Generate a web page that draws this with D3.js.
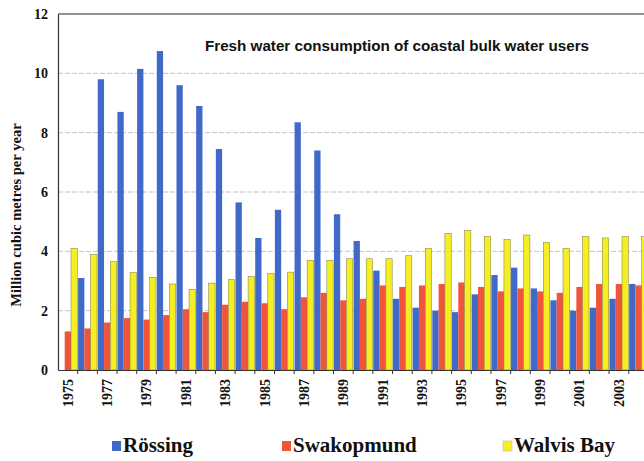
<!DOCTYPE html>
<html><head><meta charset="utf-8">
<script src="https://cdn.jsdelivr.net/npm/d3@7"></script>
<style>body{margin:0;background:#fff}svg{display:block}</style>
</head><body>
<svg id="c" width="644" height="461"></svg>
<script>
const years = d3.range(1975, 2005);
const seriesNames = ["Rössing", "Swakopmund", "Walvis Bay"];
const rossing = [0, 3.1, 9.8, 8.7, 10.15, 10.75, 9.6, 8.9, 7.45, 5.65, 4.45, 5.4, 8.35, 7.4, 5.25, 4.35, 3.35, 2.4, 2.1, 2.0, 1.95, 2.55, 3.2, 3.45, 2.75, 2.35, 2.0, 2.1, 2.4, 2.9];
const swakopmund = [1.3, 1.4, 1.6, 1.75, 1.7, 1.85, 2.05, 1.95, 2.2, 2.3, 2.25, 2.05, 2.45, 2.6, 2.35, 2.4, 2.85, 2.8, 2.85, 2.9, 2.95, 2.8, 2.65, 2.75, 2.65, 2.6, 2.8, 2.9, 2.9, 2.85];
const walvisBay = [4.1, 3.9, 3.65, 3.28, 3.12, 2.9, 2.72, 2.93, 3.05, 3.15, 3.25, 3.3, 3.7, 3.7, 3.75, 3.75, 3.75, 3.85, 4.1, 4.6, 4.7, 4.5, 4.4, 4.55, 4.3, 4.1, 4.5, 4.45, 4.5, 4.5];
const yTicks = [0, 2, 4, 6, 8, 10, 12];
const colors = ["#4169C8", "#F0553B", "#F5EE22"];
const title = "Fresh water consumption of coastal bulk water users";
const yTitle = "Million cubic metres per year";

const svg = d3.select("#c");
const mLeft = 58, mBottom = 370, mTop = 14;
const step = 19.68;
const x = d3.scaleBand().domain(years).range([mLeft, mLeft + step * years.length]).paddingInner(0.04).paddingOuter(0.02);
const xs = d3.scaleBand().domain([0,1,2]).range([0, x.bandwidth()]);
const y = d3.scaleLinear().domain([0, 12]).range([mBottom, mTop]);
const data = [rossing, swakopmund, walvisBay];

// gridlines
svg.append("g").selectAll("line").data(yTicks.filter(t => t > 0 && t < 12)).join("line")
  .attr("x1", mLeft).attr("x2", 644).attr("y1", d => y(d)).attr("y2", d => y(d))
  .attr("stroke", "#b5b5b5").attr("stroke-width", 0.8).attr("stroke-dasharray", "5,2");
// top border
svg.append("line").attr("x1", mLeft).attr("x2", 644).attr("y1", y(12)).attr("y2", y(12))
  .attr("stroke", "#222").attr("stroke-width", 1.2);

// bars
const g = svg.append("g");
years.forEach((yr, i) => {
  data.forEach((s, k) => {
    const v = s[i];
    if (v <= 0) return;
    g.append("rect")
      .attr("x", x(yr) + xs(k)).attr("width", xs.bandwidth())
      .attr("y", y(v)).attr("height", y(0) - y(v))
      .attr("fill", colors[k])
      .attr("stroke", k === 2 ? "#7a7a3a" : "none").attr("stroke-width", k === 2 ? 0.5 : 0);
  });
});

// y axis
const yAxis = d3.axisLeft(y).tickValues(yTicks).tickSize(0).tickPadding(10);
const ya = svg.append("g").attr("transform", `translate(${mLeft},0)`).call(yAxis);
ya.select(".domain").attr("stroke", "#333").attr("stroke-width", 1.2);
ya.selectAll("text").attr("font-family", "Liberation Serif, Times New Roman, serif")
  .attr("font-weight", "bold").attr("font-size", 14).attr("fill", "#111");

// x axis
const xAxis = d3.axisBottom(x).tickSize(0).tickFormat(d => (d - 1975) % 2 === 0 ? d : "");
const xa = svg.append("g").attr("transform", `translate(0,${mBottom})`).call(xAxis);
xa.select(".domain").attr("stroke", "#333").attr("stroke-width", 1.2);
xa.selectAll("text").attr("font-family", "Liberation Serif, Times New Roman, serif")
  .attr("font-weight", "bold").attr("font-size", 14).attr("fill", "#111")
  .attr("text-anchor", "end").attr("transform", "rotate(-90)")
  .attr("x", -9).attr("y", 0).attr("dy", "0.35em");
// category boundary ticks
svg.append("g").selectAll("line").data(years.slice(1)).join("line")
  .attr("x1", d => x(d) - x.step() * x.paddingInner() / 2).attr("x2", d => x(d) - x.step() * x.paddingInner() / 2)
  .attr("y1", mBottom).attr("y2", mBottom + 4).attr("stroke", "#333").attr("stroke-width", 1);

// title
svg.append("text").attr("x", 397).attr("y", 51).attr("text-anchor", "middle")
  .attr("font-family", "Liberation Sans, Arial, sans-serif").attr("font-weight", "bold")
  .attr("font-size", 15.2).attr("fill", "#111").text(title);

// y title
svg.append("text").attr("transform", "translate(21,215) rotate(-90)").attr("text-anchor", "middle")
  .attr("font-family", "Liberation Serif, Times New Roman, serif").attr("font-weight", "bold")
  .attr("font-size", 14.6).attr("fill", "#111").text(yTitle);

// legend
const legX = [112, 282, 503];
const lg = svg.append("g");
seriesNames.forEach((n, k) => {
  lg.append("rect").attr("x", legX[k]).attr("y", 441).attr("width", 9).attr("height", 10)
    .attr("fill", colors[k]).attr("stroke", k === 2 ? "#bbb" : "none").attr("stroke-width", 0.6);
  lg.append("text").attr("x", legX[k] + 11).attr("y", 452)
    .attr("font-family", "Liberation Serif, Times New Roman, serif").attr("font-weight", "bold")
    .attr("font-size", 21).attr("fill", "#111").text(n);
});
</script>
</body></html>
